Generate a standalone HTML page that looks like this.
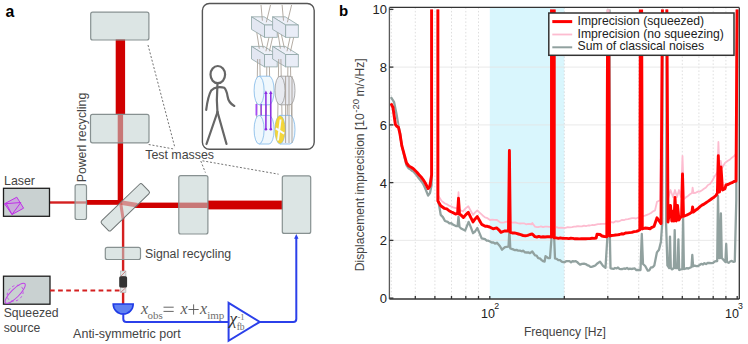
<!DOCTYPE html>
<html><head><meta charset="utf-8"><style>
html,body{margin:0;padding:0;background:#fff;width:748px;height:344px;overflow:hidden}
svg{display:block}
</style></head><body>
<svg width="748" height="344" viewBox="0 0 748 344">
<rect x="115.7" y="39" width="9.4" height="76" fill="#d00000"/>
<rect x="117.7" y="114.5" width="5.4" height="90" fill="#d00000"/>
<rect x="49" y="201.3" width="37" height="2.4" fill="#d42020"/>
<rect x="86.5" y="200" width="36" height="4.8" fill="#d00000"/>
<rect x="122" y="202.6" width="86" height="5.4" fill="#d00000"/>
<rect x="207.9" y="200.6" width="75" height="8.8" fill="#d00000"/>
<rect x="121.9" y="205" width="2.4" height="100" fill="#d42020"/>
<rect x="90.7" y="12.2" width="58.2" height="27.8" rx="2" fill="#c2d1d0" fill-opacity="0.57" stroke="#879191" stroke-width="1.2"/>
<rect x="90.5" y="114.4" width="58.5" height="28.4" rx="2" fill="#c2d1d0" fill-opacity="0.57" stroke="#879191" stroke-width="1.2"/>
<rect x="75.1" y="184.7" width="11.4" height="34.8" rx="2" fill="#c2d1d0" fill-opacity="0.57" stroke="#879191" stroke-width="1.2"/>
<rect x="178.8" y="175.6" width="29.1" height="58.4" rx="2" fill="#c2d1d0" fill-opacity="0.57" stroke="#879191" stroke-width="1.2"/>
<rect x="282.3" y="175.9" width="28.4" height="57.5" rx="2" fill="#c2d1d0" fill-opacity="0.57" stroke="#879191" stroke-width="1.2"/>
<rect x="105.3" y="247.4" width="35.2" height="12.1" rx="2" fill="#c2d1d0" fill-opacity="0.57" stroke="#879191" stroke-width="1.2"/>
<rect x="-28.25" y="-6.7" width="56.5" height="13.4" rx="2" fill="#dde5e4" transform="translate(125.3,207.3) rotate(-44)"/>
<path d="M120.6,202.5 L137.5,205.3" stroke="#c44" stroke-opacity="0.55" stroke-width="4.6" fill="none"/>
<path d="M120.6,202.5 L123.1,219" stroke="#c44" stroke-opacity="0.55" stroke-width="3" fill="none"/>
<rect x="-28.25" y="-6.7" width="56.5" height="13.4" rx="2" fill="none" stroke="#6f7575" stroke-width="1" transform="translate(125.3,207.3) rotate(-44)"/>
<rect x="3.5" y="188.3" width="46" height="28" fill="#c9d1d1" stroke="#1e1e1e" stroke-width="1.3"/>
<rect x="3.5" y="276.2" width="46.5" height="28" fill="#c9d1d1" stroke="#1e1e1e" stroke-width="1.3"/>
<polygon points="16.8,197.2 23.6,208.2 12,214.5 4.5,203.8" fill="#c890e0" fill-opacity="0.6" stroke="#c030e8" stroke-width="1"/>
<polyline points="4.5,203.8 20.8,202.5 12,214.5 6.1,203.3" fill="none" stroke="#c030e8" stroke-width="1"/>
<ellipse cx="15.2" cy="293.3" rx="13.6" ry="4.2" fill="none" stroke="#c040e8" stroke-width="1" transform="rotate(-45 15.2 293.3)"/>
<ellipse cx="15.2" cy="293.3" rx="9" ry="7" fill="none" stroke="#c040e8" stroke-width="0.8" stroke-dasharray="2.5,2.5" transform="rotate(-45 15.2 293.3)"/>
<line x1="50" y1="290.5" x2="121" y2="290.5" stroke="#d42020" stroke-width="2" stroke-dasharray="4.7,3.4"/>
<rect x="120.3" y="271" width="5.6" height="5.3" fill="#dfe3e3" stroke="#aab0b0" stroke-width="0.6"/>
<rect x="120.3" y="287.6" width="5.6" height="5" fill="#dfe3e3" stroke="#aab0b0" stroke-width="0.6"/>
<line x1="121" y1="276" x2="125.5" y2="271.5" stroke="#c06060" stroke-width="0.7"/>
<line x1="121" y1="292" x2="125.5" y2="288" stroke="#c06060" stroke-width="0.7"/>
<rect x="119.2" y="276.3" width="7.9" height="11.3" rx="1.5" fill="#333"/>
<path d="M113.2,304 L133.2,304 A10,10 0 0 1 113.2,304 Z" fill="#5f80f2" stroke="#1f3be6" stroke-width="1.6"/>
<path d="M123.3,313 L123.3,318.9 Q123.3,321.9 126.3,321.9 L228.5,321.9" fill="none" stroke="#2b40ea" stroke-width="2"/>
<polygon points="228.6,302.8 259.8,321.9 228.6,340.8" fill="#fff" stroke="#2b40ea" stroke-width="2" stroke-linejoin="miter"/>
<path d="M259.8,321.9 L293.3,321.9 Q296.3,321.9 296.3,318.9 L296.3,238" fill="none" stroke="#2b40ea" stroke-width="2"/>
<polygon points="294.1,238.8 296.3,234 298.5,238.8" fill="#2b40ea"/>
<polyline points="148,45 175,148" stroke="#444" stroke-width="0.75" stroke-dasharray="2,1.8" fill="none"/>
<polyline points="148.7,144.5 174.9,149.2" stroke="#444" stroke-width="0.75" stroke-dasharray="2,1.8" fill="none"/>
<polyline points="200.8,161 205.4,172.6" stroke="#444" stroke-width="0.75" stroke-dasharray="2,1.8" fill="none"/>
<polyline points="202.5,160.8 278.6,174.2" stroke="#444" stroke-width="0.75" stroke-dasharray="2,1.8" fill="none"/>
<text x="5.6" y="16.6" style="font-family:'Liberation Sans', sans-serif;font-weight:bold;font-size:15.8px;fill:#000">a</text>
<text x="4" y="185" style="font-family:'Liberation Sans', sans-serif;fill:#444;font-size:12.4px">Laser</text>
<text x="3.7" y="316.6" style="font-family:'Liberation Sans', sans-serif;fill:#444;font-size:12.2px">Squeezed</text>
<text x="3.7" y="332" style="font-family:'Liberation Sans', sans-serif;fill:#444;font-size:12.2px">source</text>
<text x="73.1" y="337.7" style="font-family:'Liberation Sans', sans-serif;fill:#444;font-size:12.5px">Anti-symmetric port</text>
<text x="145" y="257.5" style="font-family:'Liberation Sans', sans-serif;fill:#444;font-size:12.3px">Signal recycling</text>
<text x="145.2" y="159" style="font-family:'Liberation Sans', sans-serif;fill:#444;font-size:12.4px">Test masses</text>
<text transform="translate(85.6,182.3) rotate(-90)" style="font-family:'Liberation Sans', sans-serif;fill:#444;font-size:12.3px">Powerl recycling</text>
<text x="141" y="313.7" style="font-family:'Liberation Serif', serif;font-style:italic;fill:#5c5c5c;font-size:16px">x</text>
<text x="147.6" y="318.5" style="font-family:'Liberation Serif', serif;fill:#707070;font-size:11px">obs</text>
<path d="M163.5,307.2 H173.7 M163.5,311.4 H173.7" stroke="#555" stroke-width="0.9" fill="none"/>
<text x="180.4" y="313.7" style="font-family:'Liberation Serif', serif;font-style:italic;fill:#5c5c5c;font-size:16px">x</text>
<path d="M188.5,309.5 H198.7 M193.6,304.4 V314.6" stroke="#555" stroke-width="0.9" fill="none"/>
<text x="200" y="313.7" style="font-family:'Liberation Serif', serif;font-style:italic;fill:#5c5c5c;font-size:16px">x</text>
<text x="207.2" y="318.9" style="font-family:'Liberation Serif', serif;fill:#707070;font-size:11px">imp</text>
<text x="229.6" y="323.5" style="font-family:'Liberation Serif', serif;font-style:italic;fill:#5c5c5c;font-size:17px;fill:#333">χ</text>
<text x="237.4" y="319.6" style="font-family:'Liberation Serif', serif;fill:#707070;font-size:8.5px">-1</text>
<text x="236.7" y="330.3" style="font-family:'Liberation Serif', serif;fill:#707070;font-size:9.5px">fb</text>
<rect x="202.4" y="3.5" width="111.8" height="145.8" rx="7" fill="#fff" stroke="#555" stroke-width="1.4"/>
<ellipse cx="217.8" cy="74.6" rx="7.3" ry="8.6" stroke="#666" stroke-width="2.2" fill="none" stroke-linecap="round" stroke-linejoin="round"/>
<path d="M217.5,83 L217.3,88 Q216.3,100 217.5,113" stroke="#666" stroke-width="2.2" fill="none" stroke-linecap="round" stroke-linejoin="round"/>
<path d="M206.2,109.8 Q208,96 211.2,90.5 Q214,87.5 217.5,87.3 Q222,87 224.3,87.8 Q226.5,90 227.5,96 Q228.5,103 234.3,105.9" stroke="#666" stroke-width="2.2" fill="none" stroke-linecap="round" stroke-linejoin="round"/>
<path d="M217.5,112 Q212,128 206.5,144" stroke="#666" stroke-width="2.2" fill="none" stroke-linecap="round" stroke-linejoin="round"/>
<path d="M217.5,112 Q222,128 226.5,144" stroke="#666" stroke-width="2.2" fill="none" stroke-linecap="round" stroke-linejoin="round"/>
<polygon points="251.5,16.8 264.1,16.8 277.2,25.0 264.6,25.0" fill="#edf0f8" stroke="#8fa6a6" stroke-width="0.8"/><polygon points="251.5,16.8 264.6,25.0 264.6,37.3 251.5,29.4" fill="#e3e7f2" stroke="#8fa6a6" stroke-width="0.8"/><rect x="264.6" y="25.0" width="12.6" height="12.3" fill="#e9edf7" stroke="#8fa6a6" stroke-width="0.8"/>
<polygon points="272.6,16.8 285.20000000000005,16.8 298.3,25.0 285.70000000000005,25.0" fill="#edf0f8" stroke="#8fa6a6" stroke-width="0.8"/><polygon points="272.6,16.8 285.70000000000005,25.0 285.70000000000005,37.3 272.6,29.4" fill="#e3e7f2" stroke="#8fa6a6" stroke-width="0.8"/><rect x="285.70000000000005" y="25.0" width="12.6" height="12.3" fill="#e9edf7" stroke="#8fa6a6" stroke-width="0.8"/>
<polygon points="251.5,46.4 264.1,46.4 277.2,54.599999999999994 264.6,54.599999999999994" fill="#edf0f8" stroke="#8fa6a6" stroke-width="0.8"/><polygon points="251.5,46.4 264.6,54.599999999999994 264.6,66.9 251.5,59.0" fill="#e3e7f2" stroke="#8fa6a6" stroke-width="0.8"/><rect x="264.6" y="54.599999999999994" width="12.6" height="12.3" fill="#e9edf7" stroke="#8fa6a6" stroke-width="0.8"/>
<polygon points="272.6,46.4 285.20000000000005,46.4 298.3,54.599999999999994 285.70000000000005,54.599999999999994" fill="#edf0f8" stroke="#8fa6a6" stroke-width="0.8"/><polygon points="272.6,46.4 285.70000000000005,54.599999999999994 285.70000000000005,66.9 272.6,59.0" fill="#e3e7f2" stroke="#8fa6a6" stroke-width="0.8"/><rect x="285.70000000000005" y="54.599999999999994" width="12.6" height="12.3" fill="#e9edf7" stroke="#8fa6a6" stroke-width="0.8"/>
<line x1="261" y1="5" x2="262.4" y2="20.7" stroke="#aba39a" stroke-width="0.9"/>
<line x1="270.5" y1="5" x2="266.3" y2="22.3" stroke="#aba39a" stroke-width="0.9"/>
<line x1="256.8" y1="32.6" x2="259.3" y2="48.7" stroke="#aba39a" stroke-width="0.9"/>
<line x1="260.3" y1="34.5" x2="263.3" y2="48.3" stroke="#aba39a" stroke-width="0.9"/>
<line x1="269" y1="37.3" x2="265.9" y2="51.3" stroke="#aba39a" stroke-width="0.9"/>
<line x1="272.6" y1="37.3" x2="269.4" y2="51.3" stroke="#aba39a" stroke-width="0.9"/>
<line x1="257.6" y1="59" x2="256.4" y2="132" stroke="#aba39a" stroke-width="0.9"/>
<line x1="259.8" y1="59" x2="261.2" y2="132" stroke="#aba39a" stroke-width="0.9"/>
<line x1="266.8" y1="66.9" x2="265.9" y2="132" stroke="#aba39a" stroke-width="0.9"/>
<line x1="269.4" y1="66.9" x2="270.8" y2="132" stroke="#aba39a" stroke-width="0.9"/>
<line x1="282.1" y1="5" x2="283.5" y2="20.7" stroke="#aba39a" stroke-width="0.9"/>
<line x1="291.6" y1="5" x2="287.40000000000003" y2="22.3" stroke="#aba39a" stroke-width="0.9"/>
<line x1="277.90000000000003" y1="32.6" x2="280.40000000000003" y2="48.7" stroke="#aba39a" stroke-width="0.9"/>
<line x1="281.40000000000003" y1="34.5" x2="284.40000000000003" y2="48.3" stroke="#aba39a" stroke-width="0.9"/>
<line x1="290.1" y1="37.3" x2="287.0" y2="51.3" stroke="#aba39a" stroke-width="0.9"/>
<line x1="293.70000000000005" y1="37.3" x2="290.5" y2="51.3" stroke="#aba39a" stroke-width="0.9"/>
<line x1="278.70000000000005" y1="59" x2="277.5" y2="132" stroke="#aba39a" stroke-width="0.9"/>
<line x1="280.90000000000003" y1="59" x2="282.3" y2="132" stroke="#aba39a" stroke-width="0.9"/>
<line x1="287.90000000000003" y1="66.9" x2="287.0" y2="132" stroke="#aba39a" stroke-width="0.9"/>
<line x1="290.5" y1="66.9" x2="291.90000000000003" y2="132" stroke="#aba39a" stroke-width="0.9"/>
<path d="M259.1,76.2 L269.1,76.2 A5.0,14.3 0 0 1 269.1,104.8 L259.1,104.8" fill="#f0f8fd" stroke="#7fb8e8" stroke-width="0.8"/><ellipse cx="259.1" cy="90.5" rx="5.0" ry="14.3" fill="#f0f8fd" stroke="#7fb8e8" stroke-width="0.8"/>
<path d="M259.1,115.39999999999999 L269.1,115.39999999999999 A5.0,14.3 0 0 1 269.1,144.0 L259.1,144.0" fill="#f0f8fd" stroke="#7fb8e8" stroke-width="0.8"/><ellipse cx="259.1" cy="129.7" rx="5.0" ry="14.3" fill="#f0f8fd" stroke="#7fb8e8" stroke-width="0.8"/>
<path d="M280,76.2 L290,76.2 A5.0,14.3 0 0 1 290,104.8 L280,104.8" fill="#e8eaf0" stroke="#9a9a9a" stroke-width="0.8"/><ellipse cx="280" cy="90.5" rx="5.0" ry="14.3" fill="#e8eaf0" stroke="#9a9a9a" stroke-width="0.8"/>
<path d="M280,115.39999999999999 L290,115.39999999999999 A5.0,14.3 0 0 1 290,144.0 L280,144.0" fill="#f0f4f8" stroke="#7fb8e8" stroke-width="0.8"/><ellipse cx="280" cy="129.7" rx="5.0" ry="14.3" fill="#f0f4f8" stroke="#7fb8e8" stroke-width="0.8"/>
<line x1="285.6" y1="76" x2="285.6" y2="143" stroke="#a69e95" stroke-width="0.9"/>
<line x1="289" y1="76" x2="289" y2="143" stroke="#a69e95" stroke-width="0.9"/>
<line x1="292" y1="76" x2="292" y2="143" stroke="#a69e95" stroke-width="0.9"/>
<line x1="256.4" y1="104" x2="256.4" y2="115.5" stroke="#a64cf6" stroke-width="1.8"/>
<line x1="261.2" y1="104" x2="261.2" y2="115.5" stroke="#8a2be2" stroke-width="1.2"/>
<line x1="265.9" y1="93" x2="265.9" y2="129.2" stroke="#8a2be2" stroke-width="1.5"/>
<line x1="270.8" y1="93" x2="270.8" y2="129.2" stroke="#8a2be2" stroke-width="1.5"/>
<circle cx="265.9" cy="129.2" r="1.3" fill="#8a2be2"/><circle cx="270.8" cy="129.2" r="1.3" fill="#8a2be2"/>
<polygon points="264.2,94 265.9,90.5 267.6,94" fill="#8a2be2"/><polygon points="269.1,94 270.8,90.5 272.5,94" fill="#8a2be2"/>
<ellipse cx="280" cy="129.7" rx="4.8" ry="13.6" fill="#f4d63a" stroke="#e8c820" stroke-width="0.5"/>
<path d="M275.8,128.4 L284.2,133.6 M280.6,119.5 L278,140.5" stroke="#f6fbff" stroke-width="1.9"/>
<rect x="489.8" y="7.4" width="74.5" height="291.6" fill="#d9f6fd"/>
<line x1="391.3" y1="7.4" x2="391.3" y2="299.0" stroke="#c8c8c8" stroke-width="0.6" stroke-dasharray="1.5,2"/>
<line x1="415.3" y1="7.4" x2="415.3" y2="299.0" stroke="#c8c8c8" stroke-width="0.6" stroke-dasharray="1.5,2"/>
<line x1="434.9" y1="7.4" x2="434.9" y2="299.0" stroke="#c8c8c8" stroke-width="0.6" stroke-dasharray="1.5,2"/>
<line x1="451.5" y1="7.4" x2="451.5" y2="299.0" stroke="#c8c8c8" stroke-width="0.6" stroke-dasharray="1.5,2"/>
<line x1="465.8" y1="7.4" x2="465.8" y2="299.0" stroke="#c8c8c8" stroke-width="0.6" stroke-dasharray="1.5,2"/>
<line x1="478.5" y1="7.4" x2="478.5" y2="299.0" stroke="#c8c8c8" stroke-width="0.6" stroke-dasharray="1.5,2"/>
<line x1="607.8" y1="7.4" x2="607.8" y2="299.0" stroke="#c8c8c8" stroke-width="0.6" stroke-dasharray="1.5,2"/>
<line x1="638.7" y1="7.4" x2="638.7" y2="299.0" stroke="#c8c8c8" stroke-width="0.6" stroke-dasharray="1.5,2"/>
<line x1="662.7" y1="7.4" x2="662.7" y2="299.0" stroke="#c8c8c8" stroke-width="0.6" stroke-dasharray="1.5,2"/>
<line x1="682.3" y1="7.4" x2="682.3" y2="299.0" stroke="#c8c8c8" stroke-width="0.6" stroke-dasharray="1.5,2"/>
<line x1="698.9" y1="7.4" x2="698.9" y2="299.0" stroke="#c8c8c8" stroke-width="0.6" stroke-dasharray="1.5,2"/>
<line x1="713.2" y1="7.4" x2="713.2" y2="299.0" stroke="#c8c8c8" stroke-width="0.6" stroke-dasharray="1.5,2"/>
<line x1="725.9" y1="7.4" x2="725.9" y2="299.0" stroke="#c8c8c8" stroke-width="0.6" stroke-dasharray="1.5,2"/>
<line x1="564.3" y1="7.4" x2="564.3" y2="299.0" stroke="#c8c8c8" stroke-width="0.6" stroke-dasharray="1.5,2"/>
<line x1="389.4" y1="240.4" x2="739.3" y2="240.4" stroke="#e4e4e4" stroke-width="0.8"/>
<line x1="389.4" y1="182.6" x2="739.3" y2="182.6" stroke="#e4e4e4" stroke-width="0.8"/>
<line x1="389.4" y1="124.9" x2="739.3" y2="124.9" stroke="#e4e4e4" stroke-width="0.8"/>
<line x1="389.4" y1="67.1" x2="739.3" y2="67.1" stroke="#e4e4e4" stroke-width="0.8"/>
<svg x="389.4" y="9.6" width="349.9" height="289.4" viewBox="389.4 9.6 349.9 289.4" overflow="hidden">
<polyline points="390.9,97.2 394.1,102.2 396.5,114.0 398.5,126.0 400.0,133.0 401.8,146.0 403.4,152.0 404.9,158.9 406.5,165.3 408.8,168.5 410.3,169.3 411.9,170.7 413.4,171.5 416.9,175.5 419.0,178.5 421.1,181.0 423.1,183.7 425.1,188.0 428.1,195.6 430.0,193.0 431.6,185.0 431.6,-5.0 437.9,-5.0 437.9,200.0 439.3,206.2 440.7,214.9 442.9,217.1 445.0,221.0 447.7,221.9 449.4,223.4 451.2,223.2 452.9,224.5 456.4,226.2 457.6,226.0 458.5,216.6 459.5,227.0 461.6,228.8 465.1,230.6 468.6,221.9 470.8,227.1 473.0,233.2 475.1,231.5 477.3,228.0 479.5,233.1 481.7,238.4 485.0,239.2 486.7,240.6 488.3,240.7 490.0,241.5 491.7,242.5 493.3,242.3 495.0,243.6 497.0,242.7 500.0,246.2 502.0,249.7 505.0,247.1 508.5,246.7 509.4,229.7 510.3,248.5 511.5,248.8 513.2,249.4 514.9,250.2 516.6,249.9 518.3,250.7 520.0,250.6 521.7,251.3 523.3,250.7 525.0,252.4 526.7,252.5 528.3,252.4 530.0,253.2 532.3,251.5 535.0,255.4 536.6,255.6 538.2,258.1 539.8,258.4 541.4,259.9 543.0,261.2 544.6,261.5 545.5,256.2 547.0,257.2 548.5,258.2 550.0,258.0 551.5,237.9 551.5,-5.0 554.2,-5.0 554.2,238.0 555.0,258.5 556.7,258.9 558.3,260.2 560.0,260.2 561.7,261.6 563.3,262.1 565.0,262.0 566.5,261.1 568.0,261.1 569.5,261.1 571.0,262.3 572.5,261.2 574.0,261.5 575.5,261.1 577.0,261.9 578.5,263.4 580.0,264.6 582.0,263.9 584.0,263.7 585.6,264.1 587.2,265.1 588.8,265.7 590.4,266.9 592.0,266.8 593.7,266.1 595.3,265.5 597.0,263.7 600.0,261.6 603.0,265.9 605.5,267.8 607.3,238.4 607.9,-5.0 609.5,-5.0 609.9,238.4 610.5,268.1 612.0,268.7 613.5,268.9 615.0,268.0 616.5,268.4 618.0,267.5 619.5,268.8 621.0,269.1 622.5,269.0 624.0,268.5 625.5,268.8 627.0,268.0 628.5,269.1 630.0,268.6 631.6,269.0 633.2,268.7 634.8,268.5 636.4,270.2 638.0,269.8 640.5,270.0 641.8,234.0 643.0,264.0 645.2,266.0 647.8,270.7 649.4,270.3 651.0,267.3 652.7,267.3 654.3,265.4 656.9,252.4 659.0,249.7 660.9,241.9 662.2,223.6 662.5,-5.0 666.8,-5.0 666.1,223.6 667.4,265.4 669.2,268.0 670.0,236.6 670.8,268.0 672.1,269.4 673.9,268.0 674.7,230.1 675.5,268.0 677.6,268.0 678.4,239.3 679.2,270.0 682.3,269.0 683.1,218.3 683.9,269.0 685.4,268.7 686.9,268.1 688.4,268.6 691.5,267.0 692.3,255.0 693.1,266.3 694.7,265.6 696.4,266.1 698.0,266.0 699.6,265.0 701.2,263.8 702.8,264.5 704.4,263.2 706.0,264.1 707.6,263.0 709.2,263.0 711.1,263.2 713.1,262.8 715.0,261.4 717.2,261.0 718.0,196.0 719.2,258.0 720.1,258.0 720.9,213.4 721.8,258.0 723.6,260.0 725.4,262.0 726.2,244.0 727.0,262.0 728.6,262.8 730.1,261.5 731.7,260.9 733.2,261.8 734.8,261.5 736.3,200.0 737.0,-5.0" fill="none" stroke="#91a19f" stroke-width="2.3" stroke-linejoin="round"/>
<polyline points="390.9,103.4 393.7,113.7 396.5,123.7 398.3,128.1 401.8,145.6 404.1,154.5 406.5,163.0 408.8,165.2 411.1,167.3 413.4,168.8 416.0,171.8 418.5,174.7 421.1,177.0 423.1,179.4 425.1,182.8 428.1,188.5 431.6,175.0 431.6,-5.0 437.9,-5.0 437.9,195.0 441.6,200.9 445.0,203.5 447.0,204.3 449.0,205.7 451.0,206.3 453.0,207.4 455.0,207.9 457.6,208.5 458.5,192.2 459.5,209.5 461.0,210.5 463.0,211.4 465.6,208.4 468.3,206.2 470.6,210.5 473.0,214.9 475.1,212.4 477.3,210.5 479.9,212.8 482.4,215.2 485.0,217.4 487.5,218.2 490.0,220.0 492.3,219.7 494.7,219.8 497.0,220.0 500.0,222.3 502.1,222.6 504.2,222.3 506.4,221.6 508.5,221.8 509.4,150.5 510.3,222.0 512.7,222.7 515.1,222.4 517.6,223.2 520.0,223.5 522.0,223.3 524.0,223.3 526.0,224.3 528.0,223.8 530.0,224.0 532.0,224.4 532.3,223.0 535.0,226.6 537.0,227.1 539.0,227.0 541.0,226.4 543.0,227.1 545.0,226.6 547.2,226.7 549.3,226.9 551.5,226.8 551.5,-5.0 554.2,-5.0 554.2,227.4 556.5,227.1 558.7,227.8 561.0,227.6 563.2,227.9 565.5,227.8 567.7,227.2 570.0,227.4 572.0,227.1 574.0,226.7 576.0,226.5 578.0,226.2 580.0,226.3 582.0,226.4 584.0,225.6 586.0,226.1 588.0,225.5 590.0,225.5 592.0,225.0 594.0,225.2 596.0,224.6 598.0,224.1 600.0,224.0 602.3,223.8 604.5,223.9 606.8,223.5 607.6,-5.0 608.7,-5.0 609.5,223.0 611.5,222.1 613.6,222.6 615.6,221.2 617.7,221.5 619.8,221.1 621.8,219.9 623.9,220.2 625.9,219.3 628.0,219.1 630.0,218.6 632.0,218.1 634.0,218.1 636.0,218.5 638.2,217.5 640.5,217.5 642.8,216.0 645.0,215.6 647.0,214.8 649.0,214.0 651.0,213.0 653.0,211.4 655.0,210.5 657.0,201.8 660.0,200.3 662.5,-5.0 666.8,-5.0 668.0,199.0 670.5,190.0 673.0,197.0 675.0,190.0 677.0,197.0 679.0,190.0 681.0,197.0 682.5,156.0 684.0,199.0 686.0,197.3 688.0,195.9 690.0,194.3 692.0,193.0 692.6,187.7 693.5,193.0 695.7,192.8 697.8,191.6 700.0,191.5 702.0,190.2 704.0,188.8 706.0,187.4 708.0,185.0 710.0,184.0 712.0,181.3 714.0,177.3 716.0,174.5 717.4,172.0 718.4,142.0 719.5,170.0 720.7,161.0 722.0,168.0 725.0,163.0 727.5,161.0 730.0,159.4 732.0,157.6 734.0,156.1 736.0,153.8 737.2,-5.0" fill="none" stroke="#fdbcd0" stroke-width="1.8" stroke-linejoin="round"/>
<polyline points="390.9,103.4 393.0,107.5 395.3,124.3 396.5,126.0 398.5,127.5 400.0,134.0 401.8,145.6 404.1,154.2 406.5,163.0 408.8,166.0 411.1,167.2 413.4,168.8 416.9,172.3 419.0,174.8 421.1,177.0 423.1,179.6 425.1,182.8 428.1,188.5 430.0,186.0 431.6,175.0 431.6,-5.0 437.9,-5.0 437.9,201.0 440.7,205.8 444.2,208.3 446.8,208.8 449.4,211.0 451.4,212.0 453.5,212.9 455.5,214.0 457.6,213.5 458.5,198.3 459.5,214.3 460.8,214.9 463.4,217.5 465.9,214.6 468.3,212.3 470.6,217.1 473.0,221.9 475.1,218.9 477.3,216.6 479.5,220.5 481.7,224.4 485.2,226.2 487.4,226.3 489.6,227.0 493.1,228.8 496.6,227.9 498.8,229.8 500.9,232.3 504.4,231.0 506.4,230.9 508.5,231.0 509.4,150.5 510.3,232.3 512.3,233.0 514.4,232.9 516.4,233.4 518.4,234.0 520.7,234.7 523.1,235.5 525.4,235.8 527.7,235.3 530.0,234.5 532.3,234.0 534.9,236.6 536.9,237.0 538.9,236.4 541.0,237.1 543.0,236.8 545.0,237.0 547.2,236.8 549.3,236.7 551.5,237.0 551.5,-5.0 554.2,-5.0 554.2,237.9 556.3,237.9 558.4,238.3 560.4,237.9 562.5,238.3 564.6,238.4 566.7,238.4 568.8,238.6 570.8,238.3 572.9,238.4 575.0,238.8 577.1,238.6 579.3,238.9 581.4,238.7 583.6,238.6 585.7,238.7 587.9,238.6 590.0,238.6 592.1,238.3 594.1,238.4 596.2,238.0 597.0,234.2 600.0,234.5 602.0,236.0 604.4,236.5 606.8,236.7 607.6,20.0 608.7,20.0 609.5,236.0 611.5,235.5 613.5,235.4 615.5,235.0 617.5,234.9 619.5,234.5 621.5,233.8 623.5,234.0 625.5,233.0 627.5,232.9 629.5,232.6 631.8,232.4 634.2,231.6 636.5,231.4 639.8,230.0 640.4,-5.0 641.6,-5.0 642.3,229.0 645.0,228.0 647.5,228.3 650.0,228.7 652.0,227.3 654.0,226.5 657.0,217.8 659.0,220.7 661.0,223.6 662.5,-5.0 663.5,-5.0 665.5,-5.0 666.8,-5.0 668.0,222.1 670.5,205.4 671.8,221.0 673.0,211.2 674.0,221.0 675.0,197.4 676.3,221.0 677.5,205.4 679.0,220.0 680.0,217.8 681.6,216.5 682.5,174.0 683.5,216.3 685.7,215.5 687.8,214.6 690.0,213.4 692.0,212.0 692.6,206.9 693.3,212.0 695.5,210.3 697.8,208.7 700.0,206.6 702.0,205.1 704.0,204.1 706.0,202.7 708.0,201.4 710.0,200.0 712.0,198.5 714.0,197.2 716.0,195.5 717.4,193.0 718.3,155.7 719.5,192.0 721.0,167.0 722.5,190.0 725.0,188.7 726.0,185.0 728.0,184.5 730.0,183.4 732.0,182.7 734.0,181.5 736.0,181.0 737.2,-5.0" fill="none" stroke="#ff0000" stroke-width="2.9" stroke-linejoin="round"/>
</svg>
<line x1="389.4" y1="7.4" x2="739.3" y2="7.4" stroke="#333" stroke-width="1.3"/>
<line x1="389.4" y1="299.0" x2="739.3" y2="299.0" stroke="#333" stroke-width="1.3"/>
<line x1="389.4" y1="7.4" x2="389.4" y2="299.0" stroke="#5a5a5a" stroke-width="1.3"/>
<line x1="739.3" y1="7.4" x2="739.3" y2="299.0" stroke="#333" stroke-width="1.3"/>
<line x1="389.4" y1="298.1" x2="393.4" y2="298.1" stroke="#333" stroke-width="1.3"/>
<text x="386.9" y="303.0" text-anchor="end" style="font-family:'Liberation Sans', sans-serif;fill:#444;font-size:13px;fill:#222">0</text>
<line x1="389.4" y1="240.4" x2="393.4" y2="240.4" stroke="#333" stroke-width="1.3"/>
<text x="386.9" y="245.3" text-anchor="end" style="font-family:'Liberation Sans', sans-serif;fill:#444;font-size:13px;fill:#222">2</text>
<line x1="389.4" y1="182.6" x2="393.4" y2="182.6" stroke="#333" stroke-width="1.3"/>
<text x="386.9" y="187.5" text-anchor="end" style="font-family:'Liberation Sans', sans-serif;fill:#444;font-size:13px;fill:#222">4</text>
<line x1="389.4" y1="124.9" x2="393.4" y2="124.9" stroke="#333" stroke-width="1.3"/>
<text x="386.9" y="129.8" text-anchor="end" style="font-family:'Liberation Sans', sans-serif;fill:#444;font-size:13px;fill:#222">6</text>
<line x1="389.4" y1="67.1" x2="393.4" y2="67.1" stroke="#333" stroke-width="1.3"/>
<text x="386.9" y="72.0" text-anchor="end" style="font-family:'Liberation Sans', sans-serif;fill:#444;font-size:13px;fill:#222">8</text>
<line x1="389.4" y1="9.4" x2="393.4" y2="9.4" stroke="#333" stroke-width="1.3"/>
<text x="386.9" y="14.3" text-anchor="end" style="font-family:'Liberation Sans', sans-serif;fill:#444;font-size:13px;fill:#222">10</text>
<line x1="415.3" y1="299.0" x2="415.3" y2="296.0" stroke="#333" stroke-width="1.3"/>
<line x1="434.9" y1="299.0" x2="434.9" y2="296.0" stroke="#333" stroke-width="1.3"/>
<line x1="451.5" y1="299.0" x2="451.5" y2="296.0" stroke="#333" stroke-width="1.3"/>
<line x1="465.8" y1="299.0" x2="465.8" y2="296.0" stroke="#333" stroke-width="1.3"/>
<line x1="478.5" y1="299.0" x2="478.5" y2="296.0" stroke="#333" stroke-width="1.3"/>
<line x1="489.8" y1="299.0" x2="489.8" y2="296.0" stroke="#333" stroke-width="1.3"/>
<line x1="564.3" y1="299.0" x2="564.3" y2="296.0" stroke="#333" stroke-width="1.3"/>
<line x1="607.8" y1="299.0" x2="607.8" y2="296.0" stroke="#333" stroke-width="1.3"/>
<line x1="638.7" y1="299.0" x2="638.7" y2="296.0" stroke="#333" stroke-width="1.3"/>
<line x1="662.7" y1="299.0" x2="662.7" y2="296.0" stroke="#333" stroke-width="1.3"/>
<line x1="682.3" y1="299.0" x2="682.3" y2="296.0" stroke="#333" stroke-width="1.3"/>
<line x1="698.9" y1="299.0" x2="698.9" y2="296.0" stroke="#333" stroke-width="1.3"/>
<line x1="713.2" y1="299.0" x2="713.2" y2="296.0" stroke="#333" stroke-width="1.3"/>
<line x1="725.9" y1="299.0" x2="725.9" y2="296.0" stroke="#333" stroke-width="1.3"/>
<line x1="737.2" y1="299.0" x2="737.2" y2="296.0" stroke="#333" stroke-width="1.3"/>
<text x="481" y="317.8" style="font-family:'Liberation Sans', sans-serif;fill:#444;font-size:12.5px;fill:#222">10</text><text x="494.3" y="308.9" style="font-family:'Liberation Sans', sans-serif;fill:#444;font-size:8.8px;fill:#222">2</text>
<text x="725" y="317.8" style="font-family:'Liberation Sans', sans-serif;fill:#444;font-size:12.5px;fill:#222">10</text><text x="738" y="308.9" style="font-family:'Liberation Sans', sans-serif;fill:#444;font-size:8.8px;fill:#222">3</text>
<text x="523.9" y="335.8" style="font-family:'Liberation Sans', sans-serif;fill:#444;font-size:12.1px">Frequency [Hz]</text>
<text transform="translate(364.1,271.2) rotate(-90)" style="font-family:'Liberation Sans', sans-serif;fill:#444;font-size:12.1px">Displacement imprecision [10<tspan dy="-5.5" dx="0.5" style="font-size:9.6px">-20</tspan><tspan dy="5.5" dx="-1">  m/√Hz]</tspan></text>
<text x="339" y="16.3" style="font-family:'Liberation Sans', sans-serif;font-weight:bold;font-size:15px;fill:#000">b</text>
<rect x="548.8" y="13" width="185.2" height="42.3" fill="#fff" stroke="#333" stroke-width="1.5"/>
<line x1="552.3" y1="21.6" x2="572.2" y2="21.6" stroke="#ff0000" stroke-width="3"/>
<line x1="552.3" y1="34.5" x2="572.2" y2="34.5" stroke="#fdbcd0" stroke-width="1.8"/>
<line x1="552.3" y1="47.3" x2="572.2" y2="47.3" stroke="#91a19f" stroke-width="2"/>
<text x="577.5" y="24.6" style="font-family:'Liberation Sans', sans-serif;fill:#444;font-size:12.2px;fill:#222">Imprecision (squeezed)</text>
<text x="577.5" y="37.5" style="font-family:'Liberation Sans', sans-serif;fill:#444;font-size:12.2px;fill:#222">Imprecision (no squeezing)</text>
<text x="577.5" y="50.3" style="font-family:'Liberation Sans', sans-serif;fill:#444;font-size:12.2px;fill:#222">Sum of classical noises</text>
</svg>
</body></html>
